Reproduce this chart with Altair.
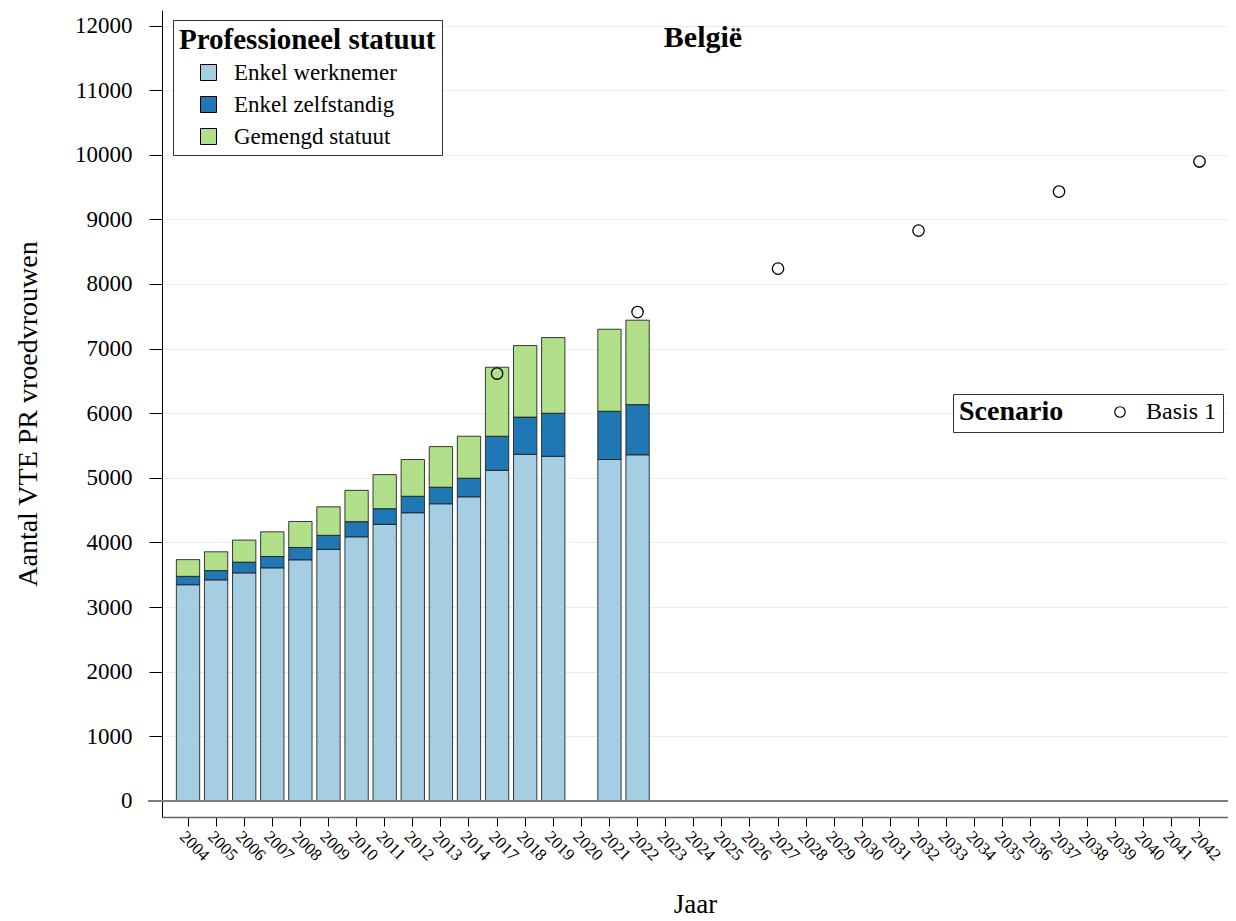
import altair as alt
import pandas as pd

FONT = "Liberation Serif"

# x-axis categories (2015, 2016 absent)
years = [str(y) for y in list(range(2004, 2015)) + list(range(2017, 2043))]

# stacked bars
bar_years = ["2004", "2005", "2006", "2007", "2008", "2009", "2010", "2011",
             "2012", "2013", "2014", "2017", "2018", "2019", "2021", "2022"]
werknemer = [3346, 3422, 3530, 3608, 3732, 3894, 4088, 4281,
             4460, 4599, 4707, 5118, 5365, 5334, 5284, 5357]
zelfstandig = [130, 143, 166, 175, 191, 217, 234, 242,
               255, 256, 287, 526, 575, 666, 747, 776]
gemengd = [259, 291, 341, 382, 402, 441, 485, 527,
           569, 629, 650, 1068, 1107, 1171, 1269, 1307]

categories = ["Enkel werknemer", "Enkel zelfstandig", "Gemengd statuut"]
cat_colors = ["#a6cee3", "#1f78b4", "#b2df8a"]

# scenario points
point_years = ["2017", "2022", "2027", "2032", "2037", "2042"]
basis1 = [6614, 7565, 8238, 8826, 9430, 9895]

y_ticks = list(range(0, 12001, 1000))

rows = []
for series_i, (cat, vals) in enumerate(zip(categories, [werknemer, zelfstandig, gemengd])):
    for yr, v in zip(bar_years, vals):
        rows.append({"jaar": yr, "statuut": cat, "volgorde": series_i, "waarde": v})
bars_df = pd.DataFrame(rows)
pts_df = pd.DataFrame({"jaar": point_years, "waarde": basis1, "scenario": ["Basis 1"] * len(basis1)})
zero_df = pd.DataFrame({"waarde": [0]})
title_df = pd.DataFrame({"t": ["België"]})

W = 1066
H = 807

x_scale = alt.Scale(domain=years, paddingInner=0.17, paddingOuter=0.555, align=0.46)
x_axis = alt.Axis(title="Jaar", labelAngle=45, labelAlign="left", labelBaseline="top",
                  labelFontSize=17, labelPadding=2, tickSize=9, tickColor="black",
                  domainColor="#666666", domainWidth=1.5, titleFontSize=27,
                  titlePadding=28, grid=False, labelOverlap=False, labelBound=False)
y_scale = alt.Scale(domain=[-248, 12240], nice=False, zero=False)
y_axis = alt.Axis(title="Aantal VTE PR vroedvrouwen", values=y_ticks, labelFontSize=23,
                  tickSize=13, tickColor="black", domainColor="black", labelPadding=17,
                  titleFontSize=28, titlePadding=32, grid=True, gridColor="#ececec",
                  gridWidth=1, format="d")

X = alt.X("jaar:N", sort=years, scale=x_scale, axis=x_axis)

bars = alt.Chart(bars_df).mark_bar(stroke="#1a1a1a", strokeWidth=1, strokeOpacity=0.85).encode(
    x=X,
    y=alt.Y("waarde:Q", stack="zero", scale=y_scale, axis=y_axis),
    color=alt.Color("statuut:N", scale=alt.Scale(domain=categories, range=cat_colors),
                    legend=alt.Legend(title="Professioneel statuut", orient="none",
                                      legendX=11, legendY=10, titleFont=FONT,
                                      titleFontSize=29, titleFontWeight="bold",
                                      titleColor="black", labelFont=FONT, labelFontSize=23,
                                      labelColor="black", symbolType="square",
                                      symbolSize=256, symbolStrokeColor="black",
                                      symbolStrokeWidth=1, strokeColor="#333333",
                                      fillColor="white", padding=6, titlePadding=6,
                                      rowPadding=8, symbolOffset=18, labelOffset=14,
                                      titleLimit=500, labelLimit=500)),
    order=alt.Order("volgorde:Q", sort="ascending"),
)

zero_rule = alt.Chart(zero_df).mark_rule(color="#7f7f7f", strokeWidth=2).encode(
    y=alt.Y("waarde:Q", scale=y_scale, axis=y_axis),
    x=alt.value(-14), x2=alt.value(W),
)

points = alt.Chart(pts_df).mark_point(filled=False, color="black", size=130,
                                      strokeWidth=1.3, opacity=1).encode(
    x=X,
    y=alt.Y("waarde:Q", scale=y_scale, axis=y_axis),
    shape=alt.Shape("scenario:N", scale=alt.Scale(domain=["Basis 1"], range=["circle"]),
                    legend=alt.Legend(title="Scenario", orient="none", legendX=791,
                                      legendY=384, direction="horizontal",
                                      titleOrient="left", titleFont=FONT, titleFontSize=28,
                                      titleFontWeight="bold", titleColor="black",
                                      labelFont=FONT, labelFontSize=24, labelColor="black",
                                      symbolSize=110, symbolStrokeColor="black",
                                      symbolFillColor="white", symbolStrokeWidth=1.2,
                                      strokeColor="#333333", fillColor="white",
                                      padding=6, titlePadding=44, labelOffset=14)),
)

title_text = alt.Chart(title_df).mark_text(font=FONT, fontSize=30, fontWeight="bold",
                                           color="black", align="center",
                                           baseline="alphabetic").encode(
    text="t:N", x=alt.value(541), y=alt.value(37),
)

chart = alt.layer(bars, zero_rule, points, title_text).resolve_scale(
    color="independent", shape="independent"
).properties(
    width=W, height=H,
    padding={"left": 154, "top": 2, "right": 0, "bottom": 105},
    autosize=alt.AutoSizeParams(type="none"),
).configure_view(stroke=None).configure_axis(
    labelFont=FONT, titleFont=FONT, labelColor="black", titleColor="black",
    titleFontWeight="normal",
)

chart.save("out.html", embed_options={"renderer": "svg", "actions": False})
